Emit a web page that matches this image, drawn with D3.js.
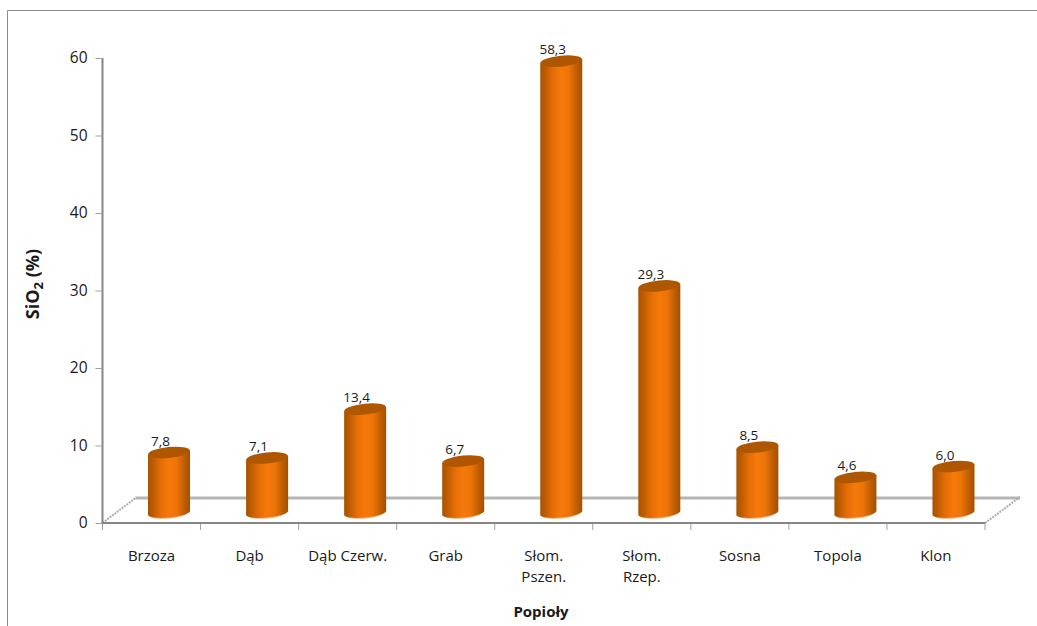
<!DOCTYPE html>
<html>
<head>
<meta charset="utf-8">
<script src="https://cdn.jsdelivr.net/npm/d3@7"></script>
<style>
    html, body { margin: 0; padding: 0; background: white; }
    svg { display: block; }
    text { font-family: "Open Sans", "Noto Sans", sans-serif; fill: #1a1a1a; }
</style>
</head>
<body>
<div id="container"></div>
<script>
const categories = ["Brzoza", "Dąb", "Dąb Czerw.", "Grab", "Słom.|Pszen.", "Słom.|Rzep.", "Sosna", "Topola", "Klon"]
const values = [7.8, 7.1, 13.4, 6.7, 58.3, 29.3, 8.5, 4.6, 6.0]
const yTicks = [0, 10, 20, 30, 40, 50, 60]

const w = 1037
const h = 626
const left = 102.5
const right = 985
const top_ = 58
const bottom = 523

// floor depth of the 3d plot, and where the columns stand on it
const depthX = 33
const depthY = 25
const barShiftX = 17.5
const barShiftY = 10
const barWidth = 42
const ryTop = 5.5
const ryBase = 4.5
const tilt = 2

const svg = d3.select("#container")
    .append("svg")
    .attr("width", w)
    .attr("height", h)

const xScale = d3.scaleBand()
    .domain(categories)
    .range([left, right])
const yScale = d3.scaleLinear()
    .domain([0, 60])
    .range([bottom, top_])

const defs = svg.append("defs")
const grad = defs.append("linearGradient")
    .attr("id", "column")
    .attr("x1", "0").attr("x2", "1").attr("y1", "0").attr("y2", "0")
const stops = [[0, "#a95200"], [0.12, "#bd5c02"], [0.3, "#e56d06"], [0.5, "#f6790a"], [0.68, "#ee7408"], [0.88, "#bb5c03"], [1, "#a45000"]]
stops.forEach(([o, c]) => grad.append("stop").attr("offset", o).attr("stop-color", c))

// outer chart frame, only top and left are in view
svg.append("path")
    .attr("d", `M7.5,${h} L7.5,10.5 L${w},10.5`)
    .attr("fill", "none")
    .attr("stroke", "#8c8c8c")
    .attr("stroke-width", 1)

// floor
const floor = svg.append("g")
floor.append("line")
    .attr("x1", left + depthX).attr("x2", right + depthX + 2)
    .attr("y1", bottom - depthY).attr("y2", bottom - depthY)
    .attr("stroke", "#b5b5b5")
    .attr("stroke-width", 3)
floor.append("path")
    .attr("d", `M${left},${bottom} L${left + depthX},${bottom - depthY}`)
    .attr("stroke", "#adadad")
    .attr("stroke-width", 2)
    .attr("stroke-dasharray", "2 1")
floor.append("path")
    .attr("d", `M${right},${bottom} L${right + depthX + 2},${bottom - depthY - 1}`)
    .attr("stroke", "#adadad")
    .attr("stroke-width", 2)
    .attr("stroke-dasharray", "2 1")

// axes
const yAxis = d3.axisLeft(yScale)
    .tickValues(yTicks)
    .tickSize(7)
    .tickPadding(8)
const yG = svg.append("g")
    .attr("transform", `translate(${left}, 0)`)
    .call(yAxis)
yG.selectAll("text").style("font-size", "15.5px").attr("font-family", null)
yG.selectAll("line").attr("stroke", "#a0a0a0")
yG.select(".domain").attr("stroke", "#868686").attr("stroke-width", 2).attr("d", `M0,${top_}V${bottom}`)

const xEdges = categories.map((c) => xScale(c)).concat(right)
svg.selectAll("line.xtick")
    .data(xEdges)
    .enter()
    .append("line")
    .classed("xtick", true)
    .attr("x1", (d) => d).attr("x2", (d) => d)
    .attr("y1", bottom).attr("y2", bottom + 7)
    .attr("stroke", "#a0a0a0")
svg.append("line")
    .attr("x1", left - 1).attr("x2", right)
    .attr("y1", bottom).attr("y2", bottom)
    .attr("stroke", "#868686")
    .attr("stroke-width", 2)

// category labels, | marks a line break
const catLabels = svg.selectAll("text.cat")
    .data(categories)
    .enter()
    .append("text")
    .classed("cat", true)
    .attr("text-anchor", "middle")
    .style("font-size", "15px")
catLabels.each(function (d) {
    const x = xScale(d) + xScale.bandwidth() / 2
    d.split("|").forEach((part, i) => {
        d3.select(this).append("tspan")
            .attr("x", x)
            .attr("y", 561 + i * 21)
            .text(part)
    })
})

// columns
const cx = (d) => xScale(d.cat) + xScale.bandwidth() / 2 + barShiftX
const cy = (d) => yScale(d.value) - barShiftY
const base = yScale(0) - barShiftY
const rx = barWidth / 2
const rows = categories.map((cat, i) => ({ cat, value: values[i] }))

const bars = svg.selectAll("g.bar")
    .data(rows)
    .enter()
    .append("g")
    .classed("bar", true)

bars.append("ellipse")
    .attr("cx", cx)
    .attr("cy", base + 1)
    .attr("rx", rx - 2)
    .attr("ry", ryBase)
    .attr("fill", "#f7b27c")
    .attr("transform", (d) => `rotate(-5.5 ${cx(d)} ${base + 1})`)
bars.append("path")
    .attr("fill", "url(#column)")
    .attr("d", (d) => {
        const l = cx(d) - rx
        const r = cx(d) + rx
        return `M${l},${cy(d) + tilt} L${l},${base + tilt} A${rx},${ryBase} -5.5 0 0 ${r},${base - tilt} L${r},${cy(d) - tilt} Z`
    })
bars.append("ellipse")
    .attr("cx", cx)
    .attr("cy", cy)
    .attr("rx", rx)
    .attr("ry", ryTop)
    .attr("fill", "#af5600")
    .attr("transform", (d) => `rotate(-5.5 ${cx(d)} ${cy(d)})`)

svg.selectAll("text.val")
    .data(rows)
    .enter()
    .append("text")
    .classed("val", true)
    .attr("x", (d) => cx(d) - 8.5)
    .attr("y", (d) => cy(d) - 7)
    .attr("text-anchor", "middle")
    .style("font-size", "13.5px")
    .text((d) => d.value.toFixed(1).replace(".", ","))

// axis titles
svg.append("text")
    .attr("x", 541)
    .attr("y", 617)
    .attr("text-anchor", "middle")
    .style("font-size", "15px")
    .style("font-weight", "bold")
    .text("Popioły")

const yTitle = svg.append("text")
    .attr("transform", "translate(39, 284) rotate(-90)")
    .attr("text-anchor", "middle")
    .style("font-size", "18px")
    .style("font-weight", "bold")
yTitle.append("tspan").text("SiO")
yTitle.append("tspan").text("2").attr("dy", 4).style("font-size", "13px")
yTitle.append("tspan").text(" (%)").attr("dy", -4)
</script>
</body>
</html>
